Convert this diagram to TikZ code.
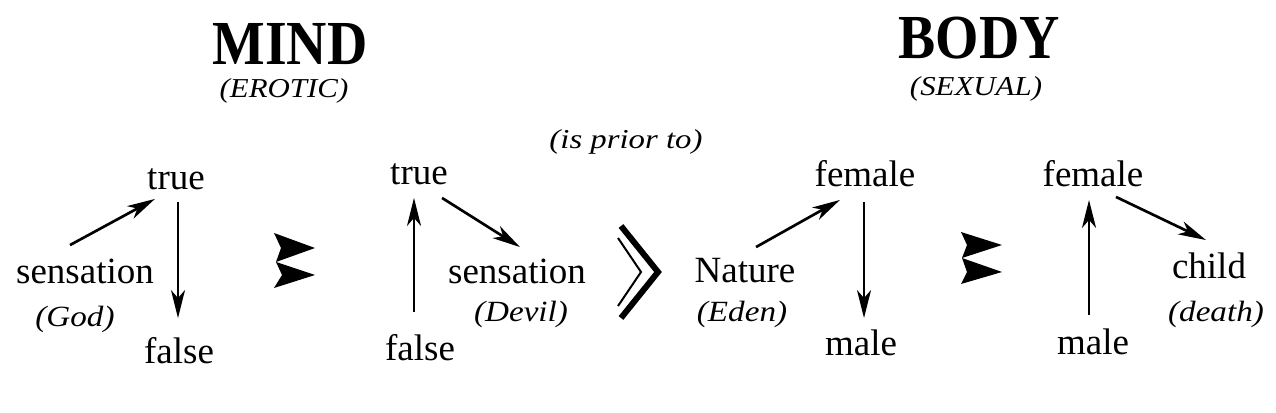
\documentclass[tikz,border=0pt]{standalone}
\usepackage{fontspec}
\usepackage{graphicx}
\setmainfont{Liberation Serif}
\usepackage{tikz}
\usetikzlibrary{calc,arrows.meta}

\tikzset{
  wrd/.style={inner sep=0pt, anchor=base, text height=20pt, text depth=5pt, font=\fontsize{27.75}{30}\selectfont},
  alias/.style={inner sep=0pt, anchor=base, font=\fontsize{22}{24}\selectfont\itshape},
  ttl/.style={inner sep=0pt, anchor=base, font=\fontsize{47}{50}\selectfont\bfseries},
  subttl/.style={inner sep=0pt, anchor=base, font=\fontsize{20.5}{22}\selectfont\itshape},
  arr/.style={-{Stealth[length=21pt,width=10.5pt,inset=6pt]}, line width=2pt},
}
\newcommand{\wide}[2][1.13]{\scalebox{#1}[1]{#2}}

\begin{document}
\begin{tikzpicture}[x=0.75pt,y=0.75pt,yscale=-1,xscale=1]
\useasboundingbox (0,0) rectangle (1276,413);
%Titles
\node [ttl] (mind) at (290,65) {\wide[0.89]{MIND}};
\node [subttl] (erotic) at (284,98) {\wide{(EROTIC)}};
\node [ttl] (body) at (979,59) {\wide[0.89]{BODY}};
\node [subttl] (sexual) at (976,96) {\wide{(SEXUAL)}};
\node [subttl] (prior) at (626,149) {\wide[1.2]{(is prior to)}};

%Group 1
\node [wrd] (true1) at (176,190) {true};
\node [wrd] (sens1) at (85,283) {sensation};
\node [alias] (god) at (75,326) {\wide{(God)}};
\node [wrd] (false1) at (179,363) {false};
\draw [arr] ($(sens1.north)+(-15,-11)$) -- ($(true1.south west)+(8,2)$);
\draw [arr] ($(true1.south)+(2,5)$) -- ($(false1.north)+(-1,-18)$);

%Group 2
\node [wrd] (true2) at (419,185) {true};
\node [wrd] (sens2) at (517,283) {sensation};
\node [alias] (devil) at (521,321) {\wide{(Devil)}};
\node [wrd] (false2) at (420,360) {false};
\draw [arr] ($(false2.north)+(-6,-21)$) -- ($(true2.south)+(-5,6)$);
\draw [arr] ($(true2.south east)+(-6,6)$) -- ($(sens2.north)+(3,-9)$);

%Group 3
\node [wrd] (fem1) at (865,187) {female};
\node [wrd] (nature) at (745,282) {Nature};
\node [alias] (eden) at (742,321) {\wide{(Eden)}};
\node [wrd] (male1) at (861,355) {male};
\draw [arr] ($(nature.north)+(11,-8)$) -- ($(fem1.south)+(-25,6)$);
\draw [arr] ($(fem1.south)+(-1,8)$) -- ($(male1.north)+(3,-10)$);

%Group 4
\node [wrd] (fem2) at (1093,187) {female};
\node [wrd] (child) at (1209,278) {child};
\node [alias] (death) at (1216,321) {\wide{(death)}};
\node [wrd] (male2) at (1093,354) {male};
\draw [arr] ($(male2.north)+(-4,-12)$) -- ($(fem2.south)+(-4,6)$);
\draw [arr] ($(fem2.south)+(23,3)$) -- ($(child.north)+(-3,-11)$);

%Shape: double arrowheads
\fill (274,233) -- (315,248) -- (276,262) -- (281,248) -- cycle;
\fill (276,262) -- (315,275) -- (274,288) -- (282,275) -- cycle;
\fill (961,232) -- (1002,245) -- (962,258) -- (967,245) -- cycle;
\fill (962,258) -- (1002,272) -- (961,284) -- (967,272) -- cycle;

%Shape: chevrons
\draw [line width=4.5pt, miter limit=10] (621,226) -- (658,272) -- (621,318);
\draw [line width=1.5pt, miter limit=10] (618,238) -- (641,272) -- (618,306);
\end{tikzpicture}
\end{document}
